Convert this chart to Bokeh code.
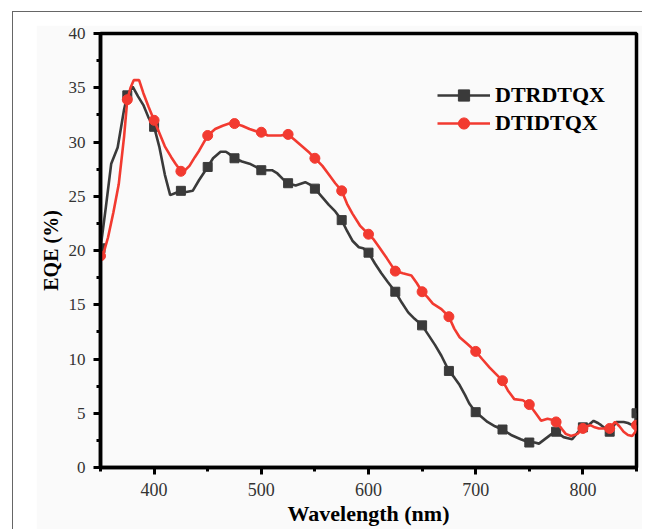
from bokeh.plotting import figure
from bokeh.models import Range1d, Legend, LegendItem, FixedTicker, Column
from bokeh.embed import file_html
from bokeh.resources import INLINE

# ---- data ----
x_black = [350, 355, 360, 366, 372, 375, 380, 385, 390, 395, 400, 405, 410, 415, 420, 425, 430, 436,
           442, 450, 455, 462, 467, 470, 475, 482, 489, 495, 500, 505, 510, 515, 520, 525, 532, 541,
           545, 550, 557, 563, 569, 575, 580, 585, 591, 595, 600, 606, 612, 618, 625, 631, 637, 643,
           650, 656, 662, 668, 675, 680, 685, 690, 694, 700, 705, 711, 718, 725, 733, 742, 750, 755,
           759, 763, 767, 771, 775, 779, 782, 786, 790, 795, 800, 805, 810, 814, 817, 821, 825, 828,
           831, 835, 838, 842, 846, 849, 850]
y_black = [20.2, 24.0, 28.0, 29.5, 33.0, 34.3, 35.1, 34.2, 33.4, 32.2, 31.4, 29.5, 27.0, 25.1, 25.3,
           25.5, 25.4, 25.5, 26.5, 27.7, 28.5, 29.1, 29.1, 28.9, 28.5, 28.2, 28.0, 27.7, 27.4, 27.4,
           27.4, 27.1, 26.6, 26.2, 26.0, 26.3, 26.1, 25.7, 24.9, 24.2, 23.6, 22.8, 21.8, 20.9, 20.3,
           20.2, 19.8, 18.8, 17.9, 17.1, 16.2, 15.2, 14.3, 13.7, 13.1, 12.2, 11.3, 10.3, 8.9, 8.3, 7.6,
           6.7, 5.9, 5.1, 4.7, 4.2, 3.8, 3.5, 3.0, 2.6, 2.3, 2.3, 2.2, 2.5, 2.8, 3.1, 3.3, 3.0, 2.8,
           2.7, 2.6, 3.2, 3.7, 3.9, 4.3, 4.1, 3.9, 3.6, 3.3, 3.7, 4.2, 4.2, 4.2, 4.1, 3.9, 4.3, 5.0]

x_red = [350, 353, 357, 362, 367, 372, 375, 378, 381, 386, 390, 395, 400, 405, 410, 416, 420, 425, 429,
         433, 438, 442, 446, 450, 457, 464, 470, 475, 482, 489, 495, 500, 506, 512, 518, 525, 531, 538,
         545, 550, 557, 563, 569, 575, 580, 585, 592, 600, 605, 610, 617, 625, 632, 640, 645, 650, 655,
         660, 668, 675, 680, 685, 692, 700, 706, 713, 719, 725, 730, 736, 744, 750, 756, 761, 767, 771,
         775, 780, 784, 789, 795, 800, 804, 807, 811, 815, 820, 825, 830, 834, 838, 842, 846, 849, 850]
y_red = [19.5, 19.8, 21.2, 23.5, 26.1, 30.5, 33.9, 35.0, 35.7, 35.7, 34.5, 33.2, 32.0, 30.8, 29.6, 28.6,
         28.0, 27.3, 27.4, 27.8, 28.6, 29.2, 29.9, 30.6, 31.2, 31.5, 31.7, 31.7, 31.5, 31.2, 31.0, 30.9,
         30.6, 30.6, 30.6, 30.7, 30.2, 29.6, 29.0, 28.5, 27.8, 27.0, 26.2, 25.5, 24.3, 23.4, 22.3, 21.5,
         21.0, 20.3, 19.3, 18.1, 17.9, 17.7, 17.0, 16.2, 15.7, 15.1, 14.6, 13.9, 12.8, 12.0, 11.4, 10.7,
         10.0, 9.2, 8.6, 8.0, 7.1, 6.3, 6.2, 5.8, 5.0, 4.3, 4.5, 4.4, 4.2, 3.6, 3.1, 2.9, 3.1, 3.6, 3.8,
         3.9, 3.7, 3.6, 3.6, 3.6, 4.2, 3.8, 3.3, 3.0, 2.9, 3.3, 3.9]

mx = [350, 375, 400, 425, 450, 475, 500, 525, 550, 575, 600, 625, 650, 675, 700, 725, 750, 775, 800, 825, 850]
my_black = [20.2, 34.3, 31.4, 25.5, 27.7, 28.5, 27.4, 26.2, 25.7, 22.8, 19.8, 16.2, 13.1, 8.9, 5.1, 3.5,
            2.3, 3.3, 3.7, 3.3, 5.0]
my_red = [19.5, 33.9, 32.0, 27.3, 30.6, 31.7, 30.9, 30.7, 28.5, 25.5, 21.5, 18.1, 16.2, 13.9, 10.7, 8.0,
          5.8, 4.2, 3.6, 3.6, 3.9]

x_ticks = [400, 500, 600, 700, 800]
x_minor = [350, 450, 550, 650, 750, 850]
y_ticks = [0, 5, 10, 15, 20, 25, 30, 35, 40]
y_minor = [2.5, 7.5, 12.5, 17.5, 22.5, 27.5, 32.5, 37.5]
names = ["DTRDTQX", "DTIDTQX"]
colors = ["#3a3a3a", "#f23a30"]

SERIF = "Liberation Serif"

p = figure(width=606, height=504, output_backend="svg", toolbar_location=None,
           x_range=Range1d(350, 850), y_range=Range1d(0, 40),
           min_border_left=61, min_border_right=6, min_border_top=8, min_border_bottom=62,
           background_fill_color="#fafafa", border_fill_color="#fafafa",
           margin=(13, 0, 0, 23))
p.grid.visible = False
p.outline_line_color = "black"
p.outline_line_width = 3.5

p.axis.axis_line_width = 3.5
p.axis.axis_line_color = "black"
p.axis.major_tick_line_width = 3
p.axis.minor_tick_line_width = 3
p.axis.major_tick_line_color = "black"
p.axis.minor_tick_line_color = "black"
p.axis.major_tick_in = 0
p.axis.major_tick_out = 7
p.axis.minor_tick_in = 0
p.axis.minor_tick_out = 4
p.axis.major_label_text_font = SERIF
p.axis.major_label_text_color = "#333333"
p.axis.axis_label_text_font = SERIF
p.axis.axis_label_text_font_style = "bold"
p.axis.axis_label_text_color = "black"

p.xaxis.ticker = FixedTicker(ticks=x_ticks, minor_ticks=x_minor)
p.yaxis.ticker = FixedTicker(ticks=y_ticks, minor_ticks=y_minor)
p.xaxis.axis_label = "Wavelength (nm)"
p.xaxis.axis_label_text_font_size = "22px"
p.xaxis.major_label_text_font_size = "18px"
p.xaxis.major_label_standoff = 8
p.xaxis.axis_label_standoff = 2
p.yaxis.axis_label = "EQE (%)"
p.yaxis.axis_label_text_font_size = "20px"
p.yaxis.major_label_text_font_size = "17px"
p.yaxis.major_label_standoff = 8
p.yaxis.axis_label_standoff = 4

lb = p.line(x_black, y_black, line_color=colors[0], line_width=2.6)
sb = p.scatter(mx, my_black, marker="square", size=9, fill_color=colors[0], line_color=colors[0])
lr = p.line(x_red, y_red, line_color=colors[1], line_width=2.6)
sr = p.scatter(mx, my_red, marker="circle", size=10, fill_color=colors[1], line_color=colors[1])

legend = Legend(items=[LegendItem(label=names[0], renderers=[lb, sb]),
                       LegendItem(label=names[1], renderers=[lr, sr])],
                location=(337, 330), glyph_width=53, glyph_height=28, label_height=28,
                label_standoff=5, spacing=0, padding=0, margin=0,
                border_line_alpha=0, background_fill_alpha=0,
                label_text_font=SERIF, label_text_font_style="bold",
                label_text_font_size="22px", label_text_color="black")
p.add_layout(legend, "center")

outer = Column(children=[p], margin=(11, 0, 0, 12),
               styles={"border-top": "1px solid #666666", "border-left": "1px solid #666666",
                       "background-color": "white"})

open("out.html", "w").write(file_html(outer, INLINE))
